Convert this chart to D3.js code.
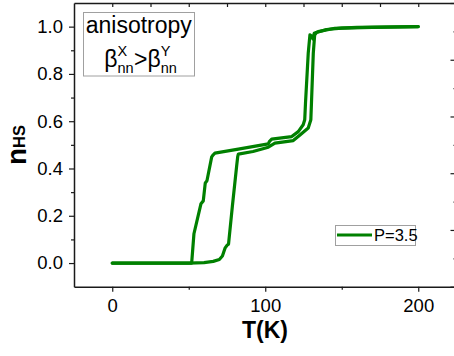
<!DOCTYPE html>
<html><head><meta charset="utf-8">
<script src="https://cdn.jsdelivr.net/npm/d3@7/dist/d3.min.js"></script>
<style>
html,body{margin:0;padding:0;background:#fff;}
svg{display:block;font-family:"Liberation Sans",Arial,sans-serif;}
</style></head>
<body>
<svg id="chart" width="454" height="356"></svg>
<script>
// Heating branch (lower / right loop)
const heatT = [0, 50, 60, 66, 70, 72, 73.7, 75, 76, 78.5, 81.3, 82, 82.4, 92, 102, 106.3, 118.3, 122.7, 128.1, 129.8, 130.2, 131.4, 132.3, 133.5, 140, 150, 170, 200];
const heatN = [0, 0, 0.002, 0.007, 0.015, 0.03, 0.063, 0.075, 0.08, 0.24, 0.41, 0.45, 0.461, 0.472, 0.49, 0.507, 0.518, 0.542, 0.571, 0.606, 0.676, 0.888, 0.965, 0.975, 0.988, 0.994, 0.997, 1.0];
// Cooling branch (upper / left loop)
const coolT = [0, 51.9, 53.4, 58.0, 59.5, 60.8, 61.9, 65.0, 66.0, 67.1, 82.4, 102, 102.8, 104.2, 117.3, 121.6, 124.8, 125.8, 126.3, 128.1, 129.2, 130.3, 131.2, 132, 134.6, 145.5, 160, 200];
const coolN = [0, 0, 0.124, 0.251, 0.263, 0.339, 0.348, 0.449, 0.458, 0.465, 0.482, 0.504, 0.515, 0.524, 0.535, 0.556, 0.585, 0.606, 0.676, 0.888, 0.965, 0.96, 0.948, 0.972, 0.979, 0.993, 0.997, 1.0];

const xTicksMajor = [0, 100, 200];
const xTicksMinor = [50, 150];
const xTicksTop = [0, 25, 50, 75, 100, 125, 150, 175, 200];
const yTicksMajor = [0.0, 0.2, 0.4, 0.6, 0.8, 1.0];
const yTicksMinor = [0.1, 0.3, 0.5, 0.7, 0.9];
const rightMajor = [0, 0.2, 0.4, 0.6, 0.8, 1.0];
const rightMinor = [0.1, 0.3, 0.5, 0.7, 0.9];
const legendLabel = "P=3.5";

const svg = d3.select("#chart");
const L = 74, R = 456.5, T = 3, B = 286.7;
const x = d3.scaleLinear().domain([-25, 225]).range([L, R]);
const y = d3.scaleLinear().domain([-0.1, 1.1]).range([B, T]);
const yR = d3.scaleLinear().domain([0, 1]).range([B, T]);

const axisColor = "#1a1a1a";
const font = "'Liberation Sans', Arial, sans-serif";

// data lines
const line = d3.line().x(d => x(d[0])).y(d => y(d[1]));
const heat = heatT.map((t, i) => [t, heatN[i]]);
const cool = coolT.map((t, i) => [t, coolN[i]]);
[heat, cool].forEach(d => {
  svg.append("path").attr("d", line(d)).attr("fill", "none")
    .attr("stroke", "#008000").attr("stroke-width", 3.2)
    .attr("stroke-linejoin", "round").attr("stroke-linecap", "round");
});

// axes
function styleAxis(g) {
  g.select(".domain").attr("stroke", axisColor).attr("stroke-width", 1.5);
  g.selectAll(".tick line").attr("stroke", axisColor).attr("stroke-width", 1.2);
  g.selectAll("text").attr("font-family", font).attr("fill", "#000");
}
// bottom
const gB = svg.append("g").attr("transform", `translate(0,${B})`)
  .call(d3.axisBottom(x).tickValues(xTicksMajor).tickSize(5).tickSizeOuter(0).tickPadding(7).tickFormat(d3.format("d")));
styleAxis(gB);
gB.selectAll("text").attr("font-size", 18.5);
svg.append("g").attr("transform", `translate(0,${B})`)
  .call(d3.axisBottom(x).tickValues(xTicksMinor).tickSize(3).tickSizeOuter(0).tickFormat(""))
  .call(g => { g.select(".domain").remove(); g.selectAll("line").attr("stroke", axisColor).attr("stroke-width", 1.2); });
// top
const gT = svg.append("g").attr("transform", `translate(0,${T})`)
  .call(d3.axisTop(x).tickValues(xTicksTop).tickSize(-4).tickSizeOuter(0).tickFormat(""));
styleAxis(gT);
// left
const gL = svg.append("g").attr("transform", `translate(${L},0)`)
  .call(d3.axisLeft(y).tickValues(yTicksMajor).tickSize(5).tickSizeOuter(0).tickPadding(6).tickFormat(d3.format(".1f")));
styleAxis(gL);
gL.selectAll("text").attr("font-size", 18.5);
svg.append("g").attr("transform", `translate(${L},0)`)
  .call(d3.axisLeft(y).tickValues(yTicksMinor).tickSize(3).tickSizeOuter(0).tickFormat(""))
  .call(g => { g.select(".domain").remove(); g.selectAll("line").attr("stroke", axisColor).attr("stroke-width", 1.2); });
// right
const gR = svg.append("g").attr("transform", `translate(${R},0)`)
  .call(d3.axisRight(yR).tickValues(rightMajor).tickSize(-6).tickSizeOuter(0).tickFormat(""));
styleAxis(gR);
svg.append("g").attr("transform", `translate(${R},0)`)
  .call(d3.axisRight(yR).tickValues(rightMinor).tickSize(-3).tickSizeOuter(0).tickFormat(""))
  .call(g => { g.select(".domain").remove(); g.selectAll("line").attr("stroke", axisColor).attr("stroke-width", 1.2); });

// axis titles
svg.append("text").attr("x", 265).attr("y", 338).attr("text-anchor", "middle")
  .attr("font-family", font).attr("font-weight", "bold").attr("font-size", 23).text("T(K)");
const yl = svg.append("text").attr("transform", "translate(26,145) rotate(-90)")
  .attr("text-anchor", "middle").attr("font-family", font).attr("font-weight", "bold");
yl.append("tspan").attr("font-size", 28).text("n");
yl.append("tspan").attr("font-size", 16.5).attr("dy", -1).text("HS");

// annotation box
svg.append("rect").attr("x", 83.5).attr("y", 12.5).attr("width", 111).attr("height", 63.5)
  .attr("fill", "#fff").attr("stroke", "#a0a0a0").attr("stroke-width", 1);
svg.append("text").attr("x", 138.8).attr("y", 33).attr("text-anchor", "middle")
  .attr("font-family", font).attr("font-size", 23).text("anisotropy");
// beta^X_nn > beta^Y_nn
const g2 = svg.append("g");
let cx = 0;
const big = 23, small = 14.5, base = 67;
function part(txt, size, dy) {
  const t = g2.append("text").attr("x", cx).attr("y", base + dy).attr("font-family", font).attr("font-size", size).text(txt);
  return t.node().getComputedTextLength();
}
function betaPart(sup) {
  cx += part("\u03B2", big, 0);
  const w1 = part("nn", small, 5.5);
  const w2 = part(sup, small, -11);
  cx += Math.max(w1, w2) + 0.5;
}
betaPart("X");
cx += part(">", big, 0);
betaPart("Y");
g2.attr("transform", `translate(${140.8 - cx / 2},0)`);

// legend
svg.append("rect").attr("x", 335.5).attr("y", 225.5).attr("width", 80).attr("height", 20)
  .attr("fill", "#fff").attr("stroke", "#a0a0a0").attr("stroke-width", 1);
svg.append("line").attr("x1", 337).attr("x2", 372).attr("y1", 235).attr("y2", 235)
  .attr("stroke", "#008000").attr("stroke-width", 3);
svg.append("text").attr("x", 374).attr("y", 241).attr("font-family", font).attr("font-size", 16.5).text(legendLabel);
</script>
</body></html>
